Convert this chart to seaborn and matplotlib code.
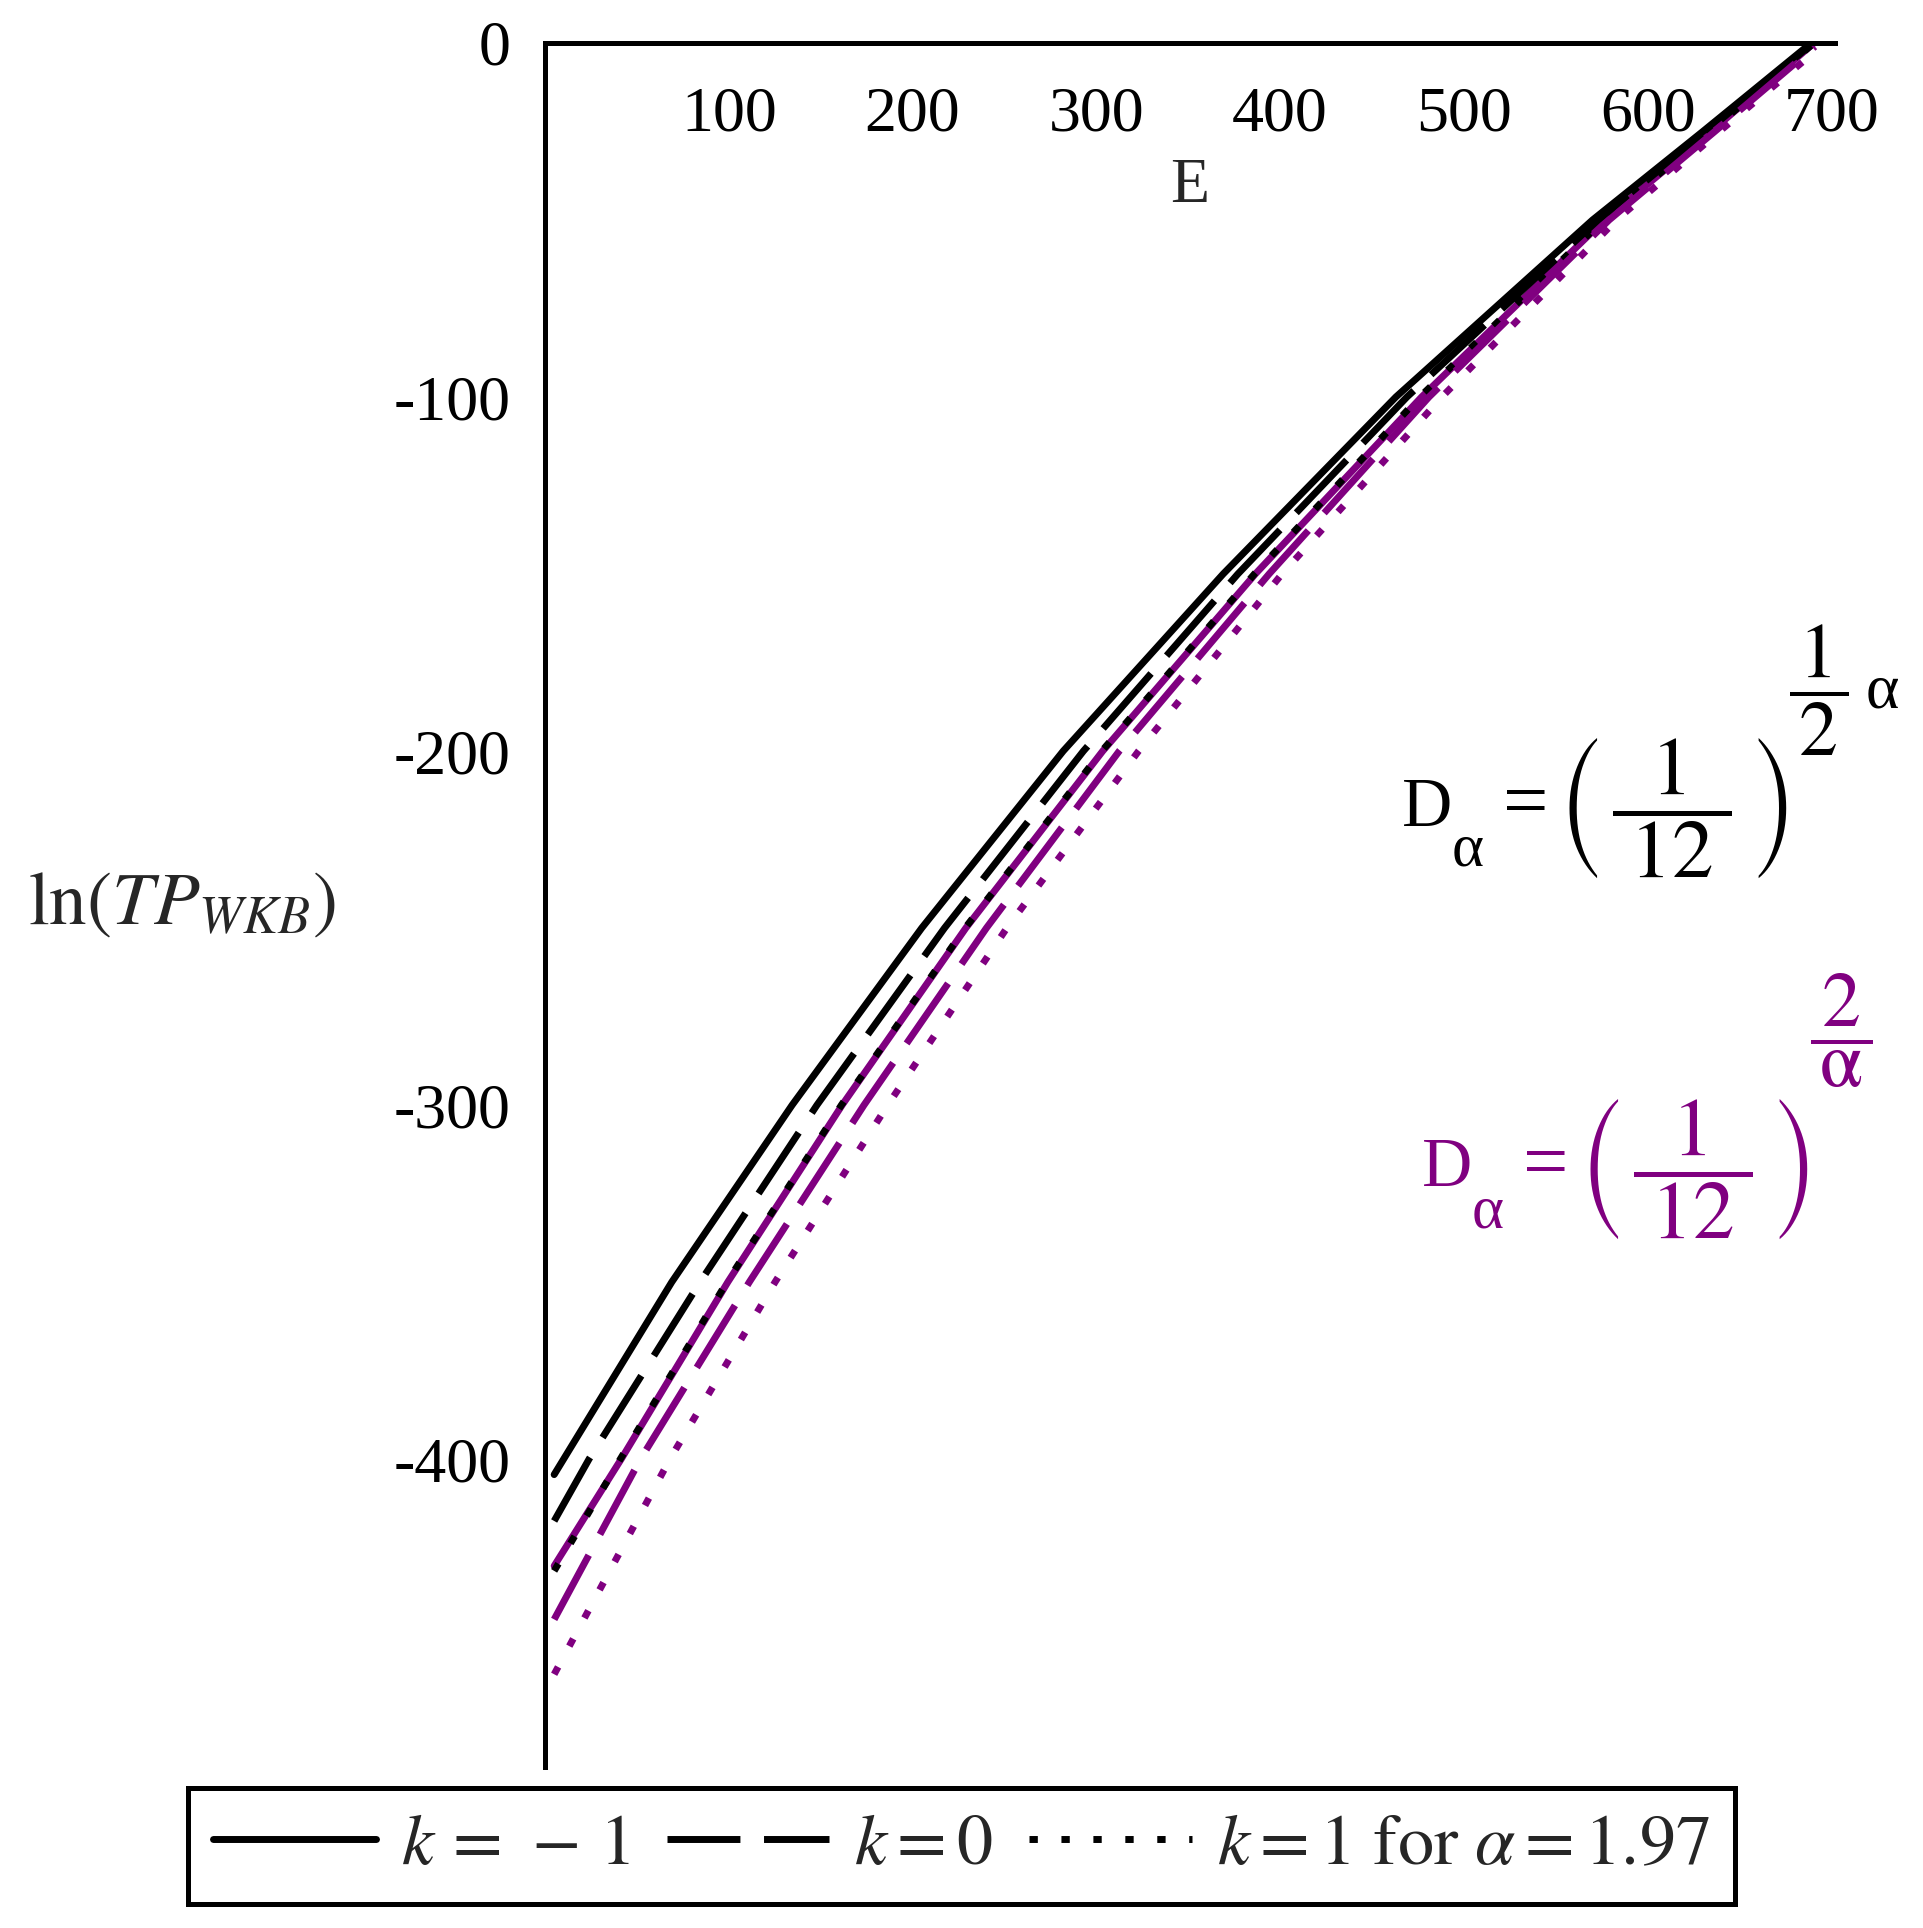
import numpy as np
import pandas as pd
import matplotlib
matplotlib.use("Agg")
import matplotlib.pyplot as plt
from matplotlib.lines import Line2D
from matplotlib.ticker import FixedLocator
import seaborn as sns

# values (E, ln TP_WKB), one pair of arrays per curve
E_black_km1 = [5, 69, 134.5, 205, 282, 369, 463, 570, 630, 689]
ln_black_km1 = [-404.4, -350, -300, -250, -200, -150, -100, -50, -25, 0]

E_black_k0 = [5, 24, 84.4, 148, 217.4, 293, 377, 469, 573, 632, 690]
ln_black_k0 = [-417.5, -400, -350, -300, -250, -200, -150, -100, -50, -25, 0]

E_black_k1 = [5, 41, 99, 161.3, 228.6, 303, 386, 476, 576, 634, 690.5]
ln_black_k1 = [-431.6, -400, -350, -300, -250, -200, -150, -100, -50, -25, 0]

E_purple_km1 = [5, 41.5, 99.5, 161.7, 229, 303.5, 386.5, 477, 576.5, 634.5, 690.5]
ln_purple_km1 = [-430.2, -400, -350, -300, -250, -200, -150, -100, -50, -25, 0]

E_purple_k0 = [5, 52, 111.2, 173.6, 240.2, 312.5, 394, 481, 579, 636.5, 691]
ln_purple_k0 = [-445.3, -400, -350, -300, -250, -200, -150, -100, -50, -25, -1]

E_purple_k1 = [5, 68, 125.2, 186.5, 251.3, 323, 401, 488, 583, 639, 692]
ln_purple_k1 = [-460.8, -400, -350, -300, -250, -200, -150, -100, -50, -25, -2]

x_major = [100, 200, 300, 400, 500, 600, 700]
x_minor = [50, 150, 250, 350, 450, 550, 650]
y_major = [0, -100, -200, -300, -400]
y_minor = [-50, -150, -250, -350, -450]

legend_labels = [r"$k\,=\,-\,1$", r"$k = 0$", r"$k = 1\ \mathrm{for}\ \alpha = 1.97$"]

PURPLE = "#800080"
LW = 5.0
DASH = (10.5, 3.4)
DOT = (1.2, 3.4)
W, H = 1923, 1928

# draw order: purple solid first so the black dots sit on top of it
curves = [
    (E_purple_km1, ln_purple_km1, PURPLE, ""),
    (E_black_km1, ln_black_km1, "black", ""),
    (E_black_k0, ln_black_k0, "black", DASH),
    (E_black_k1, ln_black_k1, "black", DOT),
    (E_purple_k0, ln_purple_k0, PURPLE, DASH),
    (E_purple_k1, ln_purple_k1, PURPLE, DOT),
]

sns.set_style("white")
plt.rcParams["font.family"] = ["Liberation Serif", "DejaVu Serif"]
plt.rcParams["mathtext.fontset"] = "stix"
plt.rcParams["axes.unicode_minus"] = False

fig = plt.figure(figsize=(W / 100, H / 100), dpi=100)
ax = fig.add_axes([0.2834, 0.0835, 0.6709, 0.8942])

for E, ln, color, dash in curves:
    df = pd.DataFrame({"E": E, "lnTP": ln})
    line_kws = dict(color=color, linewidth=LW, sort=False, estimator=None, ax=ax)
    if dash:
        sns.lineplot(data=df, x="E", y="lnTP", dashes=dash, **line_kws)
    else:
        sns.lineplot(data=df, x="E", y="lnTP", **line_kws)

ax.set_xlim(0, 702)
ax.set_ylim(-487, 0)

# Maple-style axes crossing at the origin (x axis sits on top)
ax.spines["bottom"].set_position(("data", 0))
ax.spines["left"].set_position(("data", 0))
ax.spines["top"].set_visible(False)
ax.spines["right"].set_visible(False)
for s in ("bottom", "left"):
    ax.spines[s].set_linewidth(3.6)
    ax.spines[s].set_color("black")

ax.xaxis.set_major_locator(FixedLocator(x_major))
ax.xaxis.set_minor_locator(FixedLocator(x_minor))
ax.yaxis.set_major_locator(FixedLocator(y_major))
ax.yaxis.set_minor_locator(FixedLocator(y_minor))
ax.tick_params(axis="x", which="major", direction="out", length=14, width=1.1,
               labelsize=46, pad=17, colors="black")
ax.tick_params(axis="x", which="minor", direction="out", length=7, width=1.1, colors="black")
ax.tick_params(axis="y", which="major", direction="out", length=14, width=1.1,
               labelsize=46, pad=11, colors="black")
ax.tick_params(axis="y", which="minor", direction="out", length=7, width=1.1, colors="black")
for lab in ax.get_yticklabels():
    lab.set_va("center_baseline")

ax.set_xlabel("E", fontsize=46, labelpad=10)
ax.set_ylabel(r"$\mathrm{ln}\left(TP_{WKB}\right)$", fontsize=54, rotation=0,
              ha="center", va="center")
ax.yaxis.set_label_coords(-0.2814, 0.5)


def put(x, y, s, size, color, ha="left", va="baseline"):
    # x, y in pixels from the top-left corner of the figure
    fig.text(x / W, 1 - y / H, s, fontsize=size, color=color, ha=ha, va=va)


# D_alpha = (1/12)^(alpha/2), black
put(1402, 826, "D", 50, "black")
put(1452, 866, "α", 44, "black")
put(1526, 827, "=", 58, "black", ha="center")
put(1673, 808, r"$\left(\,\dfrac{1}{\;12\;}\,\right)$", 60, "black", ha="center", va="center")
put(1819, 690, r"$\dfrac{1}{\,2\,}$", 56, "black", ha="center", va="center")
put(1866, 708, "α", 46, "black")

# D_alpha = (1/12)^(2/alpha), purple
put(1422, 1186, "D", 50, PURPLE)
put(1472, 1227, "α", 44, PURPLE)
put(1546, 1188, "=", 58, PURPLE, ha="center")
put(1694, 1169, r"$\left(\,\dfrac{1}{\;12\;}\,\right)$", 60, PURPLE, ha="center", va="center")
put(1841, 1031, r"$\dfrac{2}{\,\mathrm{\alpha}\,}$", 56, PURPLE, ha="center", va="center")

handles = [
    Line2D([], [], color="black", linewidth=LW),
    Line2D([], [], color="black", linewidth=LW, dashes=DASH),
    Line2D([], [], color="black", linewidth=LW, dashes=DOT),
]
leg = fig.legend(handles, legend_labels, loc="center", bbox_to_anchor=(0.5, 0.0425),
                 ncol=3, fontsize=52, handlelength=2.25, handletextpad=0.35,
                 columnspacing=0.5, borderpad=0.35, frameon=True, fancybox=False,
                 framealpha=1)
leg.get_frame().set_edgecolor("black")
leg.get_frame().set_linewidth(3.6)

fig.savefig("out.png", dpi=100, facecolor="white")
